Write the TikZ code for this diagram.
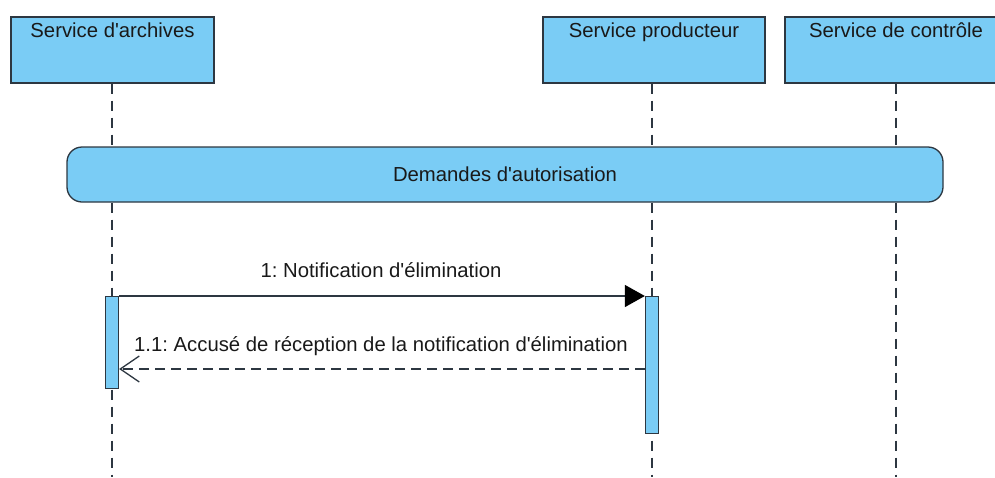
\documentclass[tikz,border=0pt]{standalone}
\usepackage{fontspec}
\setmainfont[Ligatures=NoCommon]{Liberation Sans}
\usetikzlibrary{arrows.meta}
\definecolor{umlfill}{RGB}{122,204,245}
\definecolor{umlline}{RGB}{45,55,65}
\definecolor{umltext}{RGB}{25,25,25}
\newcommand{\ap}{\textquotesingle}
\frenchspacing
\tikzset{
  lifebox/.style={draw=umlline, fill=umlfill, line width=1.3pt, minimum width=#1, minimum height=66pt, inner sep=0pt},
  boxtitle/.style={anchor=north, font=\fontsize{20.3}{23}\selectfont, text=umltext, inner sep=0pt, yshift=-6pt},
  lifeline/.style={draw=umlline, line width=1.3pt, dash pattern=on 10pt off 7pt},
  actbar/.style={draw=umlline, fill=umlfill, line width=1.3pt, minimum width=13pt, inner sep=0pt},
  fragment/.style={draw=umlline, fill=umlfill, line width=1.3pt, rounded corners=15pt, minimum width=876pt, minimum height=55pt, font=\fontsize{20.3}{23}\selectfont, text=umltext},
  msgsync/.style={draw=umlline, line width=1.3pt, -{Triangle[length=20pt,width=22pt,fill=black,color=black]}},
  msgreply/.style={draw=umlline, line width=1.3pt, dash pattern=on 10pt off 6pt, -{Straight Barb[length=19pt,width=26pt,line width=1.3pt]}},
  msglabel/.style={font=\fontsize{20.3}{23}\selectfont, text=umltext, inner sep=0pt}
}
\begin{document}
\begin{tikzpicture}[x=1pt,y=-1pt]
  \useasboundingbox (0,0) rectangle (995,477);
  \clip (0,0) rectangle (995,477);

  % participants
  \node[lifebox=203pt, label={[boxtitle]north:Service d\ap archives}] (archives) at (112.5,50) {};
  \node[lifebox=222pt, label={[boxtitle]north:Service producteur}] (producteur) at (654,50) {};
  \node[lifebox=222pt, label={[boxtitle]north:Service de contrôle}] (controle) at (896,50) {};

  % lifeline ends
  \coordinate (endA) at (112,477);
  \coordinate (endP) at (652,477);
  \coordinate (endC) at (896,477);

  \draw[lifeline] (archives.south -| endA) -- (endA);
  \draw[lifeline] (producteur.south -| endP) -- (endP);
  \draw[lifeline] (controle.south -| endC) -- (endC);

  % combined fragment
  \node[fragment] (demandes) at (505,174.5) {Demandes d\ap autorisation};

  % activation bars
  \node[actbar, minimum height=92pt, anchor=north] (actA) at (112,296) {};
  \node[actbar, minimum height=137pt, anchor=north] (actP) at (652,296) {};

  % messages
  \draw[msgsync] (actA.north east) -- (actP.north west);
  \node[msglabel] (m1) at (381,270) {1: Notification d\ap élimination};

  \coordinate (replyY) at (0,369);
  \draw[msgreply] (actP.west |- replyY) -- (actA.east |- replyY);
  \node[msglabel] (m2) at (381,346) {1.1: Accusé de réception de la notification d\ap élimination};
\end{tikzpicture}
\end{document}
